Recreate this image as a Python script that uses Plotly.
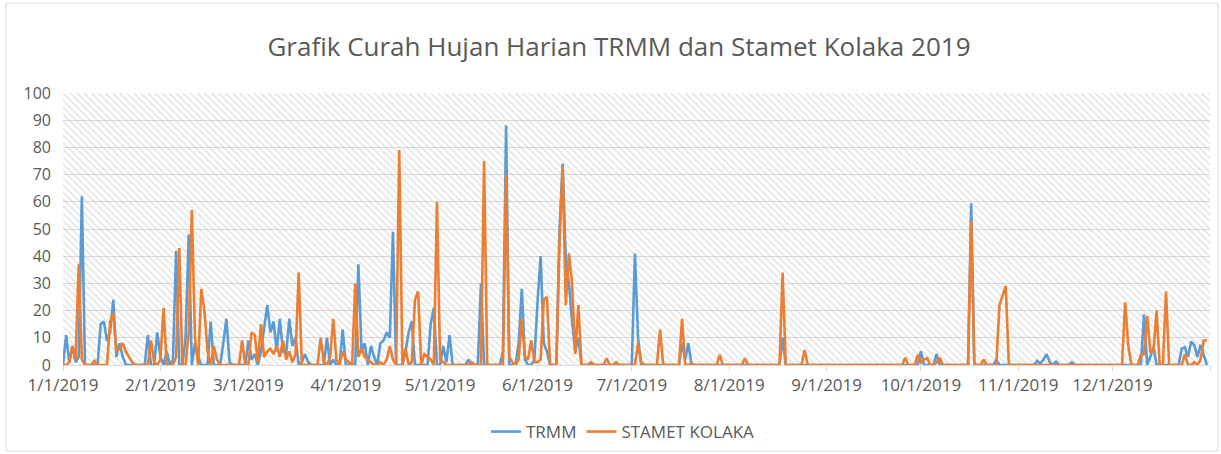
import pandas as pd
import plotly.graph_objects as go

# Daily rainfall (mm), 2019
trmm_jan = [0, 11, 1, 7, 1, 3, 62, 0, 0, 0, 0, 0, 15, 16, 9, 12, 24, 3, 8, 3, 0, 0, 0, 0, 0, 0, 0, 11, 0, 0, 12]
trmm_feb = [3, 0, 5, 0, 2, 42, 0, 0, 10, 48, 0, 8, 3, 0, 0, 0, 16, 0, 0, 0, 8, 17, 1, 0, 0, 0, 0, 0]
trmm_mar = [9, 2, 4, 0, 5, 14, 22, 12, 16, 5, 17, 5, 4, 17, 7, 10, 0, 1, 4, 1, 0, 0, 0, 0, 0, 10, 0, 2, 0, 0, 13]
trmm_apr = [0, 0, 0, 0, 37, 5, 8, 0, 7, 3, 0, 8, 9, 12, 10, 49, 0, 0, 0, 5, 12, 16, 0, 0, 0, 0, 0, 15, 21, 0]
trmm_may = [0, 7, 1, 11, 0, 0, 0, 0, 0, 2, 0, 0, 0, 30, 0, 0, 0, 0, 0, 0, 5, 88, 0, 0, 0, 8, 28, 2, 0, 0, 2]
trmm_jun = [23, 40, 8, 5, 0, 0, 0, 50, 74, 39, 30, 16, 5, 10, 0, 0, 0, 0, 0, 0, 0, 0, 0, 0, 0, 0, 0, 0, 0, 0]
trmm_jul = [0, 41, 10, 0, 0, 0, 0, 0, 0, 0, 0, 0, 0, 0, 0, 0, 8, 2, 8, 0, 0, 0, 0, 0, 0, 0, 0, 0, 0, 0, 0]
trmm_aug = [0, 0, 0, 0, 0, 0, 0, 0, 0, 0, 0, 0, 0, 0, 0, 0, 0, 10, 0, 0, 0, 0, 0, 0, 0, 0, 0, 0, 0, 0, 0]
trmm_sep = [0, 0, 0, 0, 0, 0, 0, 0, 0, 0, 0, 0, 0, 0, 0, 0, 0, 0, 0, 0, 0, 0, 0, 0, 0, 0, 0, 0, 0, 0]
trmm_oct = [5, 0, 0, 0, 0, 4, 0, 0, 0, 0, 0, 0, 0, 0, 0, 0, 59.5, 0, 0, 0, 0, 0, 0, 0, 2, 0, 0, 0, 0, 0, 0]
trmm_nov = [0, 0, 0, 0, 0, 0, 1.5, 0.5, 2, 4, 1, 0, 1.2, 0, 0, 0, 0, 1, 0, 0, 0, 0, 0, 0, 0, 0, 0, 0, 0, 0]
trmm_dec = [0, 0, 0, 0, 0, 0, 0, 0, 0, 0, 18.6, 0, 3, 6.7, 0, 0, 0, 0, 0, 0, 0, 0, 6, 6.5, 3, 8.6, 7.4, 3, 7.4, 4, 0]

stamet_jan = [0, 0, 1, 7, 2, 37, 2, 0, 0, 0, 1.5, 0, 0, 0, 0, 16, 19, 5, 6, 8, 5, 3, 1, 0, 0, 0, 0, 0, 9, 1, 0]
stamet_feb = [2, 21, 0, 0, 0, 3, 43, 0, 0, 12, 57, 10, 0, 28, 20, 5, 0, 7, 2, 0, 0, 0, 0, 0, 0, 0, 9, 0]
stamet_mar = [0, 12, 11, 1, 15, 3, 5, 6, 4, 7, 3, 9, 2, 5, 1, 4, 34, 0, 0, 0, 0, 0, 0, 10, 1, 0, 3, 17, 2, 0, 5]
stamet_apr = [2, 1, 0, 30, 3, 6, 3, 2, 1, 0, 0, 1, 0, 2, 7, 2, 0, 79, 0, 6, 0, 1, 24, 27, 0, 4, 3, 2, 0, 60]
stamet_may = [2, 1, 0, 0, 0, 0, 0, 0, 0, 0, 1, 0, 0, 0, 75, 0, 0, 0, 0, 0, 0, 70, 3, 1, 0, 2, 17, 3, 2, 9, 1]
stamet_jun = [1, 2, 24, 25, 0, 0, 0, 45, 73, 22, 41, 30, 4, 22, 0, 0, 0, 1, 0, 0, 0, 0, 2.5, 0, 0, 1, 0, 0, 0, 0]
stamet_jul = [0, 0, 8, 1, 0, 0, 0, 0, 0, 13, 0, 0, 0, 0, 0, 0, 17, 0, 0, 0.5, 0, 0, 0, 0, 0, 0, 0, 0, 3.7, 0, 0]
stamet_aug = [0, 0, 0, 0, 0, 2.5, 0, 0, 0, 0, 0, 0, 0, 0, 0, 0, 0, 34, 0, 0, 0, 0, 0, 0, 5.5, 0, 0, 0, 0, 0, 0]
stamet_sep = [0, 0, 0, 0, 0, 0, 0, 0, 0, 0, 0, 0, 0, 0, 0, 0, 0, 0, 0, 0, 0, 0, 0, 0, 0, 2.7, 0, 0, 0, 3.7]
stamet_oct = [1, 2, 2.5, 0, 0, 1, 2.7, 0, 0, 0, 0, 0, 0, 0, 0, 0, 53, 0, 0, 0, 2, 0, 0, 0, 0, 22, 26, 29, 0, 0, 0]
stamet_nov = [0, 0, 0, 0, 0, 0, 0, 0, 0, 0, 0, 0, 0, 0, 0, 0, 0, 0, 0, 0, 0, 0, 0, 0, 0, 0, 0, 0, 0, 0]
stamet_dec = [0, 0, 0, 0, 23, 7, 0, 0, 0, 3.7, 4, 18, 5, 5, 20, 0, 0, 27, 0, 0, 0, 0, 0, 4, 0, 0, 1, 0, 2, 9, 9]

trmm = (trmm_jan + trmm_feb + trmm_mar + trmm_apr + trmm_may + trmm_jun +
        trmm_jul + trmm_aug + trmm_sep + trmm_oct + trmm_nov + trmm_dec)
stamet = (stamet_jan + stamet_feb + stamet_mar + stamet_apr + stamet_may + stamet_jun +
          stamet_jul + stamet_aug + stamet_sep + stamet_oct + stamet_nov + stamet_dec)

dates = pd.date_range("2019-01-01", periods=len(trmm), freq="D")
x_start = dates[0]
x_end = dates[-1] + pd.Timedelta(days=1)

GRAY = "#595959"
GRID = "#d9d9d9"
FONT = "Open Sans"

fig = go.Figure()

# hatched plot-area background (Excel pattern fill)
span_ms = (x_end - x_start).total_seconds() * 1000
fig.add_trace(go.Bar(
    x=[x_start + (x_end - x_start) / 2], y=[100], width=[span_ms],
    marker=dict(color="rgba(0,0,0,0)", line=dict(width=0),
                pattern=dict(shape="\\", fgcolor="#c8c8c8", bgcolor="rgba(255,255,255,0)",
                             size=5, solidity=0.3)),
    showlegend=False, hoverinfo="skip",
))

fig.add_trace(go.Scatter(x=dates, y=trmm, mode="lines", name="TRMM",
                         line=dict(color="#5B9BD5", width=2.6)))
fig.add_trace(go.Scatter(x=dates, y=stamet, mode="lines", name="STAMET KOLAKA",
                         line=dict(color="#ED7D31", width=2.6)))

L, R, T, B = 63, 11, 93, 89
W, H = 1221, 454
ph = H - T - B
pw = W - L - R

fig.update_layout(
    width=W, height=H,
    margin=dict(l=L, r=R, t=T, b=B, autoexpand=False),
    paper_bgcolor="white", plot_bgcolor="white",
    font=dict(family=FONT, color=GRAY, size=16),
    title=dict(text="Grafik Curah Hujan Harian TRMM dan Stamet Kolaka 2019",
               x=619 / W, xanchor="center", y=1 - 47 / H, yanchor="middle",
               font=dict(family=FONT, size=26, color=GRAY)),
    showlegend=True,
    legend=dict(orientation="h", xref="container", yref="container",
                x=623 / W, xanchor="center",
                y=1 - 432 / H, yanchor="middle",
                font=dict(family=FONT, size=17, color=GRAY),
                traceorder="normal", itemwidth=30),
    bargap=0,
    xaxis=dict(type="date", range=[x_start, x_end], tickformat="%-m/%-d/%Y",
               dtick="M1", tick0=x_start, showgrid=False, showline=True,
               linecolor=GRID, linewidth=1, ticks="outside", ticklen=5,
               tickcolor=GRID, tickfont=dict(size=17, color=GRAY), automargin=False),
    yaxis=dict(range=[0, 100], dtick=10, showgrid=True, gridcolor=GRID,
               gridwidth=1, zeroline=False, showline=False, ticks="",
               ticklabelstandoff=11,
               tickfont=dict(size=16, color=GRAY), automargin=False),
    shapes=[dict(type="rect", xref="paper", yref="paper",
                 x0=(6 - L) / pw, x1=(W - 3 - L) / pw,
                 y0=-(H - 3 - (T + ph)) / ph, y1=(T + ph - 3) / ph,
                 line=dict(color=GRID, width=1), layer="below")],
)

fig.write_html("out.html", config={"displayModeBar": False},
               post_script="document.body.style.margin='0';document.body.style.padding='0';")
